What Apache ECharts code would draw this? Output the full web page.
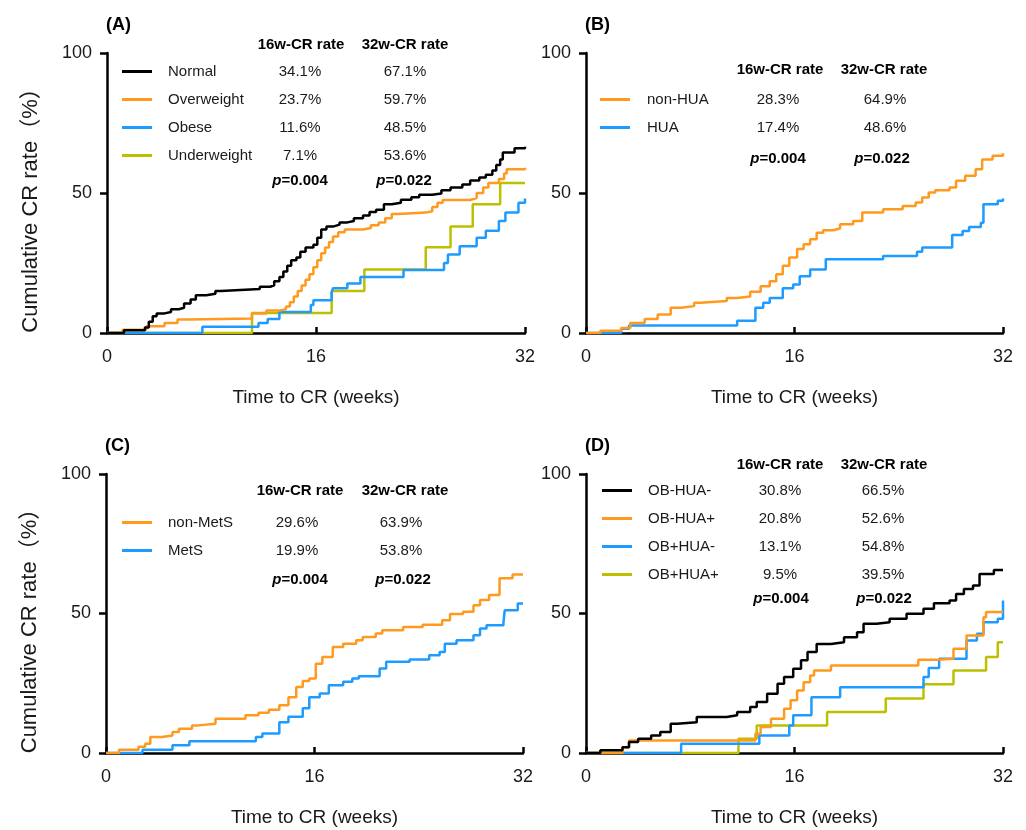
<!DOCTYPE html>
<html>
<head>
<meta charset="utf-8">
<script src="https://cdn.jsdelivr.net/npm/echarts@6/dist/echarts.min.js"></script>
<style>
html,body{margin:0;padding:0;background:#fff;}
#chart{width:1026px;height:830px;}
</style>
</head>
<body>
<div id="chart"></div>
<script>
// ---------- DATA ----------
const xTicks = [0, 16, 32];
const yTicks = [0, 50, 100];
const headers = ['16w-CR rate', '32w-CR rate'];
const pValues = ['0.004', '0.022'];

// Panel A
const namesA = ['Normal', 'Overweight', 'Obese', 'Underweight'];
const rate16A = ['34.1%', '23.7%', '11.6%', '7.1%'];
const rate32A = ['67.1%', '59.7%', '48.5%', '53.6%'];
const normalA = [[0,0],[1.3,1],[2.9,2],[3.2,4],[3.5,6],[3.8,7],[4.4,7.5],[4.9,8.5],[5.5,9],[5.9,10.5],[6.4,12],[6.8,13.5],[7.6,14],[8.3,15],[8.7,15.7],[11.7,16.5],[12.5,17],[12.8,18.5],[13.2,20],[13.5,22],[13.8,24],[14.1,26],[14.5,27],[14.8,29],[15.2,30.5],[15.8,31.5],[16.1,34],[16.4,37],[16.8,38],[17.3,38.7],[17.8,39.5],[18.4,40],[18.9,41],[19.6,42],[20.1,43.2],[20.6,44],[21.2,46],[21.8,46.5],[22.5,47.6],[23.3,48.5],[23.9,49.4],[24.9,49.8],[25.6,51],[26.3,52],[27.2,53],[27.8,54.5],[28.5,55.5],[29,56.5],[29.5,58],[29.8,60],[30.1,62],[30.3,64.5],[31.2,66],[32,66.5]];
const overweightA = [[0,0],[1.2,1.2],[3.0,2.4],[4.4,3.6],[5.4,4.8],[6.3,5.2],[11.1,7],[12.2,8],[13.2,8.5],[13.7,9.5],[14.0,11],[14.3,13],[14.6,15],[14.9,17],[15.2,19],[15.5,21],[15.8,23.5],[16.1,26],[16.4,28.5],[16.7,30.5],[17.0,32.5],[17.3,34.5],[17.7,36],[18.2,37],[19.6,37.5],[20.2,38.5],[20.8,39.5],[21.3,41],[21.8,42.5],[22.3,43],[24.4,43.5],[24.9,45],[25.3,46.5],[25.7,47.5],[27.8,48.2],[28.3,50],[28.8,52],[29.2,53.6],[30.0,55],[30.4,57],[30.6,58.5],[32,59]];
const obeseA = [[0,0],[7.3,2.2],[11.6,3.6],[12.3,5],[13.2,7.5],[15.6,10],[15.8,11.7],[17.2,14.5],[17.3,16],[18.4,17.7],[19.4,20],[22.7,22.5],[25.8,25],[26.1,28],[27.0,31],[28.3,34],[29.0,36.5],[30.0,40],[30.5,43],[31.5,46.5],[32,48]];
const underweightA = [[0,0],[11.1,7.1],[17.2,15],[19.7,22.7],[24.4,30.6],[26.3,38],[28,46],[30.1,53.6],[32,53.6]];

// Panel B
const namesB = ['non-HUA', 'HUA'];
const rate16B = ['28.3%', '17.4%'];
const rate32B = ['64.9%', '48.6%'];
const nonHuaB = [[0,0],[1.1,0.8],[2.7,1.8],[3.4,3.6],[4.5,5],[5.5,6.6],[6.5,9],[7.3,9.6],[8.3,10.8],[8.8,11.4],[10.8,12.5],[11.6,13],[12.6,14.7],[13.4,16.7],[14.1,18.5],[14.6,21],[15.1,24],[15.6,27],[16.2,30],[16.7,31.7],[17.2,33.5],[17.7,35.8],[18.2,36.7],[19,37.4],[19.5,38.8],[20.5,40],[21.2,43],[22.8,44.2],[24.3,45.4],[25.3,46.6],[25.8,48.4],[26.3,50.2],[26.8,51],[27.9,52],[28.4,54.4],[29.1,56.2],[29.9,58.5],[30.4,62],[31.2,63.3],[32,64.2]];
const huaB = [[0,0],[2.7,1.5],[3.3,2.7],[11.6,4.4],[13,9],[13.6,10.8],[14.1,12.5],[15.1,16],[15.9,17.3],[16.4,20.3],[17.2,22.7],[18.4,26.3],[22.8,27.5],[25.4,29],[25.8,30.5],[28.1,35],[28.9,36.4],[29.4,37.9],[30.3,39.4],[30.5,46],[31.6,47.2],[32,48]];

// Panel C
const namesC = ['non-MetS', 'MetS'];
const rate16C = ['29.6%', '19.9%'];
const rate32C = ['63.9%', '53.8%'];
const nonMetsC = [[0,0],[1,1.2],[2.5,2.2],[3,3.3],[3.4,5.7],[4.3,6.3],[5.1,7.5],[5.6,8.7],[6.6,9.9],[7.1,10.5],[8.4,12.3],[10.7,13.5],[11.7,14.4],[12.5,15.5],[13.3,17.1],[14,20],[14.6,23.7],[15.1,25.8],[15.6,26.7],[16.1,32],[16.6,34.4],[17.4,38],[18.2,39.2],[19.2,40.4],[19.7,41.6],[20.7,42.8],[21.2,44],[22.8,45.2],[24.3,46],[25.8,47.6],[26.4,49.8],[27.4,50.6],[28.2,53],[28.7,54.8],[29.4,56.6],[30.2,62.6],[31.2,64],[32,64]];
const metsC = [[0,0],[2.8,1.2],[5.1,2.8],[6.4,4.2],[11.5,5.7],[12,7],[13.3,11],[14,13],[15.1,16],[15.6,20],[16.4,21.3],[17.1,24.3],[18.2,25.5],[18.9,26.7],[19.4,27.5],[21,30.3],[21.5,32.7],[23.3,33.5],[24.8,35],[25.6,36.2],[26,39.2],[26.9,40.4],[28.2,42.2],[28.7,44.6],[29.2,45.8],[30.5,46.7],[30.6,51.2],[31.6,53.6],[32,53.6]];

// Panel D
const namesD = ['OB-HUA-', 'OB-HUA+', 'OB+HUA-', 'OB+HUA+'];
const rate16D = ['30.8%', '20.8%', '13.1%', '9.5%'];
const rate32D = ['66.5%', '52.6%', '54.8%', '39.5%'];
const obNegHuaNegD = [[0,0],[1.1,1],[2.8,2.1],[3.3,3.9],[4,5.1],[5,6.3],[5.7,7.5],[6.5,10.5],[7,11],[8.5,12.9],[10.8,13.5],[11.6,14.7],[12.6,16.5],[13.1,18.3],[13.9,21.2],[14.7,24.8],[15.2,27.2],[15.9,30.2],[16.5,33.2],[17,36.2],[17.7,39.1],[18.8,39.7],[19.8,41.5],[20.8,43.3],[21.3,46.3],[22.3,46.9],[23.3,48.1],[24.6,49.9],[25.9,51.7],[26.7,53.7],[27.9,54.7],[28.4,57],[29,58.8],[29.7,60],[30.2,64.2],[31.3,65.6],[32,65.6]];
const obNegHuaPosD = [[0,0],[2.8,2.1],[3.3,4.5],[13,6.9],[13.4,9.3],[14.2,12.3],[15.2,15.9],[15.7,18.9],[16.2,22.4],[16.7,25.4],[17.2,27.8],[17.5,29.6],[18.8,31.4],[25.5,33.4],[27,33.8],[28.2,37.4],[29.2,42.1],[30.5,48.7],[30.7,50.5],[32,50.5]];
const obPosHuaNegD = [[0,0],[7.3,3.3],[13.3,6.3],[15.6,9.9],[15.9,13.5],[17.3,20],[19.5,23.6],[25.9,27.2],[26.3,30.5],[27.1,33.8],[29.2,40.3],[30,42.7],[30.5,46.9],[31.6,48.1],[32,54.7]];
const obPosHuaPosD = [[0,0],[11.7,5.1],[13.1,9.9],[18.5,14.7],[23,19.5],[25.9,24.6],[28.2,29.6],[30.7,34.4],[31.6,39.7],[32,39.7]];

// ---------- STYLE / LAYOUT ----------
const FONT = '"Liberation Sans", Arial, "Noto Sans CJK SC", sans-serif';
const C_BLACK = '#000000', C_ORANGE = '#FF9A1F', C_BLUE = '#1E9BFF', C_OLIVE = '#BCC000';

const panels = [
  { label: '(A)', grid: {left: 107, top: 53, width: 418, height: 280}, yName: true,
    names: namesA, r16: rate16A, r32: rate32A,
    data: [normalA, overweightA, obeseA, underweightA], colors: [C_BLACK, C_ORANGE, C_BLUE, C_OLIVE],
    legend: {left: 122, top: 64, spacer: 11, nW: 92, aW: 80, bW: 130},
    hdr: {y: 45, c1: 301, c2: 405}, p: {y: 181, c1: 300, c2: 404} },
  { label: '(B)', grid: {left: 586, top: 53, width: 417, height: 280}, yName: false,
    names: namesB, r16: rate16B, r32: rate32B,
    data: [nonHuaB, huaB], colors: [C_ORANGE, C_BLUE],
    legend: {left: 600, top: 92, spacer: 12, nW: 91, aW: 80, bW: 134},
    hdr: {y: 70, c1: 780, c2: 884}, p: {y: 159, c1: 778, c2: 882} },
  { label: '(C)', grid: {left: 106, top: 474, width: 417, height: 279}, yName: true,
    names: namesC, r16: rate16C, r32: rate32C,
    data: [nonMetsC, metsC], colors: [C_ORANGE, C_BLUE],
    legend: {left: 122, top: 515, spacer: 11, nW: 89, aW: 80, bW: 128},
    hdr: {y: 491, c1: 300, c2: 405}, p: {y: 580, c1: 300, c2: 403} },
  { label: '(D)', grid: {left: 586, top: 474, width: 417, height: 279}, yName: false,
    names: namesD, r16: rate16D, r32: rate32D,
    data: [obNegHuaNegD, obNegHuaPosD, obPosHuaNegD, obPosHuaPosD], colors: [C_BLACK, C_ORANGE, C_BLUE, C_OLIVE],
    legend: {left: 602, top: 483, spacer: 11, nW: 92, aW: 80, bW: 126},
    hdr: {y: 465, c1: 780, c2: 884}, p: {y: 599, c1: 781, c2: 884} }
];

const grids = [], xAxes = [], yAxes = [], series = [], legends = [], graphics = [];

panels.forEach((pn, i) => {
  grids.push(Object.assign({containLabel: false}, pn.grid));
  xAxes.push({
    type: 'value', gridIndex: i, min: xTicks[0], max: xTicks[xTicks.length - 1], interval: xTicks[1] - xTicks[0],
    axisLine: {show: true, onZero: false, lineStyle: {color: '#000', width: 2.5}},
    axisTick: {show: true, inside: true, length: 6, lineStyle: {color: '#000', width: 2.5}},
    axisLabel: {fontSize: 18, color: '#1a1a1a', fontFamily: FONT, margin: 15},
    splitLine: {show: false},
    name: 'Time to CR (weeks)', nameLocation: 'middle', nameGap: 55,
    nameTextStyle: {fontSize: 19, color: '#1a1a1a', fontFamily: FONT}
  });
  yAxes.push({
    type: 'value', gridIndex: i, min: yTicks[0], max: yTicks[yTicks.length - 1], interval: yTicks[1] - yTicks[0],
    axisLine: {show: true, onZero: false, lineStyle: {color: '#000', width: 2.5}},
    axisTick: {show: true, inside: false, length: 7, lineStyle: {color: '#000', width: 2.5}},
    axisLabel: {fontSize: 18, color: '#1a1a1a', fontFamily: FONT, margin: 15},
    splitLine: {show: false},
    name: pn.yName ? 'Cumulative CR rate（%）' : '', nameLocation: 'middle', nameGap: 65,
    nameTextStyle: {fontSize: 22, color: '#1a1a1a', fontFamily: FONT, padding: [0, 24, 0, 0]}
  });
  pn.names.forEach((nm, k) => {
    series.push({
      name: nm, type: 'line', step: 'end', xAxisIndex: i, yAxisIndex: i,
      symbol: 'none', showSymbol: false, data: pn.data[k], color: pn.colors[k],
      lineStyle: {width: 2.5, color: pn.colors[k]}, animation: false, z: 3 + (pn.names.length - k)
    });
  });
  const L = pn.legend;
  const r16 = pn.r16, r32 = pn.r32, names = pn.names;
  legends.push({
    data: names, left: L.left, top: L.top, orient: 'vertical', padding: 0,
    icon: 'rect', itemWidth: 30, itemHeight: 3, itemGap: 13, selectedMode: false,
    formatter: (nm) => { const k = names.indexOf(nm); return '{s|}{n|' + nm + '}{a|' + r16[k] + '}{b|' + r32[k] + '}'; },
    textStyle: {
      fontFamily: FONT, fontSize: 15, color: '#1a1a1a',
      rich: {
        s: {width: L.spacer, lineHeight: 20},
        n: {width: L.nW, fontSize: 15, fontFamily: FONT, color: '#1a1a1a', lineHeight: 20},
        a: {width: L.aW, align: 'center', fontSize: 15, fontFamily: FONT, color: '#1a1a1a', lineHeight: 20},
        b: {width: L.bW, align: 'center', fontSize: 15, fontFamily: FONT, color: '#1a1a1a', lineHeight: 20}
      }
    }
  });
  // panel label
  graphics.push({type: 'text', x: pn.grid.left - 1, y: pn.grid.top - 28,
    style: {text: pn.label, fontSize: 18, fontWeight: 'bold', fontFamily: FONT, fill: '#000', align: 'left', verticalAlign: 'middle'}});
  // column headers
  [pn.hdr.c1, pn.hdr.c2].forEach((cx, j) => {
    graphics.push({type: 'text', x: cx, y: pn.hdr.y,
      style: {text: headers[j], fontSize: 15, fontWeight: 'bold', fontFamily: FONT, fill: '#000', align: 'center', verticalAlign: 'middle'}});
  });
  [pn.p.c1, pn.p.c2].forEach((cx, j) => {
    graphics.push({type: 'text', x: cx, y: pn.p.y,
      style: {text: '{i|p}{t|=' + pValues[j] + '}', align: 'center', verticalAlign: 'middle',
        rich: {
          i: {fontStyle: 'italic', fontWeight: 'bold', fontSize: 15, fontFamily: FONT, fill: '#000'},
          t: {fontWeight: 'bold', fontSize: 15, fontFamily: FONT, fill: '#000'}
        }}});
  });
});

const chart = echarts.init(document.getElementById('chart'), null, {renderer: 'canvas'});
chart.setOption({
  backgroundColor: '#ffffff',
  animation: false,
  grid: grids, xAxis: xAxes, yAxis: yAxes, series: series, legend: legends, graphic: graphics
});
</script>
</body>
</html>
